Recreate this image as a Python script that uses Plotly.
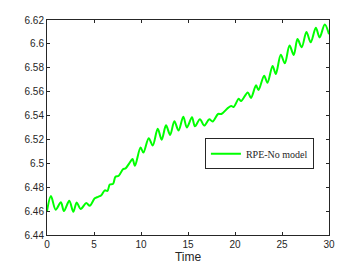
import plotly.graph_objects as go

time = [0, 0.42, 0.92, 1.48, 1.8, 2.37, 2.8, 3.16, 3.58, 4.17, 4.56, 5.08, 5.43, 5.78,
        6.15, 6.43, 6.68, 7.03, 7.28, 7.63, 8.08, 8.36, 8.75, 9.1, 9.35, 9.95, 10.25,
        10.82, 11.25, 11.78, 12.2, 12.66, 13.1, 13.55, 14.0, 14.5, 14.88, 15.42, 15.74,
        16.27, 16.73, 17.26, 17.62, 18.2, 18.55, 19.26, 19.6, 19.85, 20.4, 20.65, 21.36,
        21.7, 22.24, 22.5, 23.1, 23.45, 24.0, 24.34, 24.87, 25.3, 25.8, 26.25, 26.65,
        27.1, 27.6, 28.05, 28.6, 29.0, 29.55, 30]
rpe_no_model = [6.4599, 6.4726, 6.4612, 6.4675, 6.4600, 6.4686, 6.4594, 6.4672, 6.4618,
                6.4667, 6.4645, 6.4707, 6.4720, 6.4733, 6.4774, 6.4769, 6.4822, 6.4828,
                6.4888, 6.4896, 6.4950, 6.4958, 6.5000, 6.5036, 6.4979, 6.5133, 6.5090,
                6.5211, 6.5150, 6.5290, 6.5198, 6.5318, 6.5238, 6.5352, 6.5275, 6.5390,
                6.5300, 6.5385, 6.5310, 6.5369, 6.5316, 6.5369, 6.5350, 6.5413, 6.5413,
                6.5464, 6.5480, 6.5472, 6.5540, 6.5521, 6.5594, 6.5548, 6.5653, 6.5613,
                6.5734, 6.5675, 6.5815, 6.5748, 6.5910, 6.5837, 6.5986, 6.5908, 6.6040,
                6.5972, 6.6100, 6.6013, 6.6135, 6.6054, 6.6162, 6.6080]

x_ticks = [0, 5, 10, 15, 20, 25, 30]
y_ticks = [6.44, 6.46, 6.48, 6.50, 6.52, 6.54, 6.56, 6.58, 6.60, 6.62]
y_tick_labels = ["6.44", "6.46", "6.48", "6.5", "6.52", "6.54", "6.56", "6.58", "6.6", "6.62"]

fig = go.Figure()
fig.add_trace(go.Scatter(
    x=time, y=rpe_no_model, mode="lines", name="RPE-No model",
    line=dict(color="#00ff00", width=2, shape="spline", smoothing=0.9),
))

axis_common = dict(
    showline=True, linecolor="#262626", linewidth=1, mirror="ticks",
    ticks="inside", ticklen=3, tickcolor="#262626", showgrid=False, zeroline=False,
    tickfont=dict(family="Liberation Sans, Arial, sans-serif", size=10, color="#262626"),
)

fig.update_layout(
    width=364, height=273,
    margin=dict(l=47, r=35, t=20, b=31),
    paper_bgcolor="white", plot_bgcolor="white",
    showlegend=True,
    legend=dict(
        x=0.56, y=0.45, xanchor="left", yanchor="top",
        bgcolor="white", bordercolor="#262626", borderwidth=1,
        font=dict(family="Liberation Serif, Times New Roman, serif", size=10, color="#262626"),
        itemwidth=30, tracegroupgap=0,
    ),
    xaxis=dict(
        range=[0, 30], tickvals=x_ticks, ticktext=[str(v) for v in x_ticks],
        title=dict(text="Time", standoff=3,
                   font=dict(family="Liberation Sans, Arial, sans-serif", size=12, color="#262626")),
        **axis_common,
    ),
    yaxis=dict(
        range=[6.44, 6.62], tickvals=y_ticks, ticktext=y_tick_labels,
        **axis_common,
    ),
)

fig.write_html("out.html", config={"displayModeBar": False},
               post_script="document.body.style.margin='0';")
